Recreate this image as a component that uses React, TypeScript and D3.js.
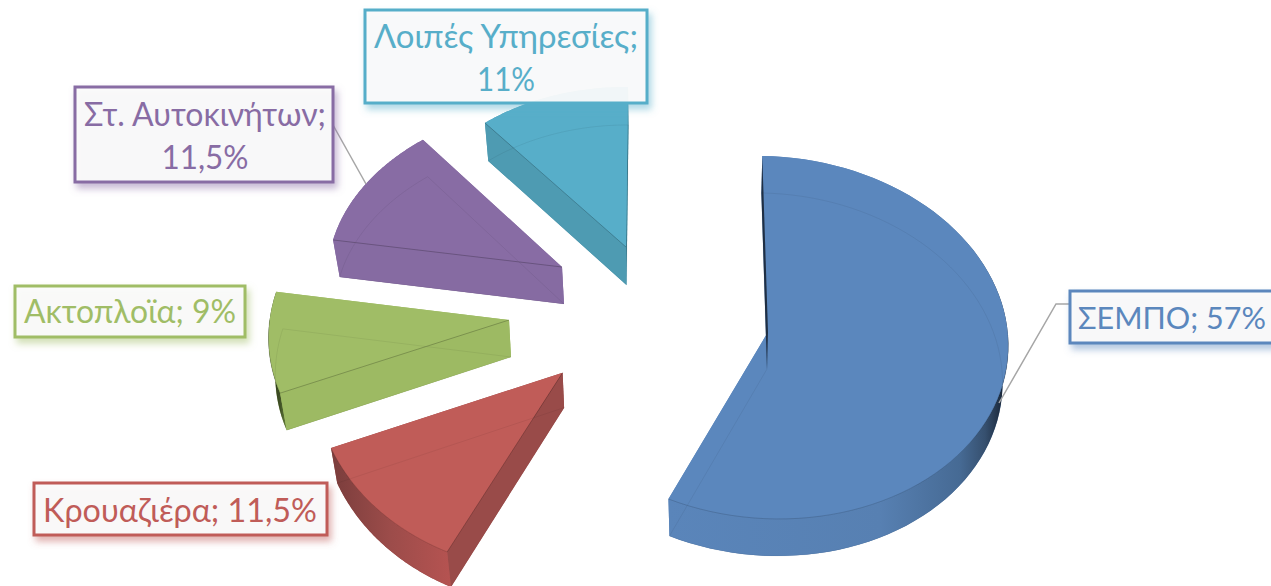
import React from "react";
import * as d3 from "d3";

const categories = ["ΣΕΜΠΟ", "Κρουαζιέρα", "Ακτοπλοϊα", "Στ. Αυτοκινήτων", "Λοιπές Υπηρεσίες"];
const values = [57, 11.5, 9, 11.5, 11];
const colors = ["#5b87bd", "#c05c58", "#a0bd66", "#886ca4", "#57aec9"];

const W = 1271, H = 586;

// projected placement of every exploded slice: apex, projective matrix, depth offset
const placement = [
  { ax: 768, ay: 332, a: 240, b: 5.9, c: 3.7, d: 181.3, g: -0.03, ox: -1, oy: 37 },
  { ax: 562.6, ay: 372.7, a: 247.5, b: -11.1, c: 4.5, d: 200.2, g: 0, ox: 1.5, oy: 35 },
  { ax: 509, ay: 320, a: 239.4, b: -23, c: -0.5, d: 183, g: 0, ox: 2, oy: 37 },
  { ax: 562, ay: 267, a: 233.8, b: -12.9, c: 1.4, d: 164, g: 0, ox: 2, oy: 37 },
  { ax: 626, ay: 247, a: 223.7, b: -2, c: 1.3, d: 160, g: 0, ox: 0.5, oy: 38 },
];
const wallStyle = [
  { start: "#1f2f44", end: "#5a85ba", outer: [[668, "#5a85ba"], [880, "#5780b2"], [960, "#466a94"], [985, "#36506f"], [1001, "#1d2c40"]] },
  { start: "#994b49", end: "#994b49", outer: [[331, "#7a3d3c"], [390, "#9c4c4a"], [450, "#b55351"]] },
  { start: "#9dba63", end: "#9dba63", outer: [[270, "#2d3a1a"], [280, "#3f4f25"], [290, "#7c9a48"]] },
  { start: "#866ba2", end: "#866ba2", outer: [[330, "#866ba2"], [430, "#866ba2"]] },
  { start: "#4e9bb2", end: "#3b7a8d", outer: [[480, "#4e9bb2"], [630, "#4e9bb2"]] },
];
const boxes = [
  { x: 1070, y: 291, w: 215, h: 52, lines: ["ΣΕΜΠΟ; 57%"], base: [329], cx: 1172, fit: [188], size: 30.5 },
  { x: 34, y: 483, w: 293, h: 52, lines: ["Κρουαζιέρα; 11,5%"], base: [522], cx: 180, fit: [274], size: 32 },
  { x: 15, y: 286, w: 230, h: 51, lines: ["Ακτοπλοϊα; 9%"], base: [323], cx: 130, fit: [212], size: 32 },
  { x: 75, y: 87, w: 258, h: 95, lines: ["Στ. Αυτοκινήτων;", "11,5%"], base: [126, 169], cx: 205, fit: [242, 87], size: 32 },
  { x: 365, y: 10, w: 282, h: 93, lines: ["Λοιπές Υπηρεσίες;", "11%"], base: [48, 91], cx: 506, fit: [264, 58], size: 32 },
];
const leaders = [
  [[999, 403], [1056, 304], [1070, 304]],
  null,
  null,
  [[333, 125], [366, 184]],
  null,
];

const pie = d3.pie<number>().sort(null).startAngle(0).endAngle(2 * Math.PI);
const line = d3.line<number[]>().x(p => p[0]).y(p => p[1]);

type P = typeof placement[number];
function project(p: P, theta: number, bottom: boolean): number[] {
  const X = Math.sin(theta), Y = -Math.cos(theta);
  const w = 1 + p.g * Y;
  const px = (p.a * X + p.b * Y) / w, py = (p.c * X + p.d * Y) / w;
  return bottom
    ? [p.ax + p.ox + px * 0.98, p.ay + p.oy + py]
    : [p.ax + px, p.ay + py];
}
function arcPts(p: P, t0: number, t1: number, bottom: boolean): number[][] {
  const s = d3.scaleLinear().domain([0, 80]).range([t0, t1]);
  return d3.range(81).map(i => project(p, s(i), bottom));
}

export default function App() {
  const arcs = pie(values);
  return (
    <svg width={W} height={H} viewBox={`0 0 ${W} ${H}`}
      style={{ position: "fixed", left: 0, top: 0, background: "#fff", display: "block" }}>
      <defs>
        {wallStyle.map((s, i) => (
          <linearGradient key={i} id={`outer${i}`} gradientUnits="userSpaceOnUse"
            x1={s.outer[0][0] as number} x2={s.outer[s.outer.length - 1][0] as number} y1={0} y2={0}>
            {s.outer.map((st, j) => {
              const x0 = s.outer[0][0] as number, x1 = s.outer[s.outer.length - 1][0] as number;
              return <stop key={j} offset={((st[0] as number) - x0) / (x1 - x0)} stopColor={st[1] as string} />;
            })}
          </linearGradient>
        ))}
        {colors.map((c, i) => (
          <filter key={i} id={`shadow${i}`} x="-10%" y="-20%" width="125%" height="150%">
            <feDropShadow dx={3} dy={5} stdDeviation={3.5} floodColor={c} floodOpacity={0.5} />
          </filter>
        ))}
      </defs>

      {arcs.map((arc, i) => {
        const p = placement[i];
        const t0 = arc.startAngle, t1 = arc.endAngle;
        const topArc = arcPts(p, t0, t1, false);
        const botArc = arcPts(p, t0, t1, true);
        const apexT = [p.ax, p.ay], apexB = [p.ax + p.ox, p.ay + p.oy];
        const topFace = [apexT, ...topArc];
        const botFace = [apexB, ...botArc];
        const outerWall = [...topArc, ...botArc.slice().reverse()];
        const startWall = [apexT, topArc[0], botArc[0], apexB];
        const endWall = [apexT, topArc[80], botArc[80], apexB];
        // the edges of the top face that stand in front of a wall
        const frontArc = topArc.filter(q => q[1] > p.ay);
        return (
          <g key={categories[i]}>
            <path d={line(botFace)! + "Z"} fill={colors[i]} />
            <path d={line(endWall)! + "Z"} fill={wallStyle[i].end} />
            <path d={line(outerWall)! + "Z"} fill={`url(#outer${i})`} />
            <path d={line(topFace)! + "Z"} fill={colors[i]} />
            <path d={line(startWall)! + "Z"} fill={wallStyle[i].start} />
            <path d={line(botFace)! + "Z"} fill="none" stroke="#000" strokeOpacity={0.06} strokeWidth={1} />
            <path d={line(frontArc)!} fill="none" stroke="#000" strokeOpacity={0.14} strokeWidth={1} />
            {i > 0 && <path d={line([apexT, topArc[0]])!} fill="none" stroke="#000" strokeOpacity={0.22} strokeWidth={1} />}
          </g>
        );
      })}

      {leaders.map((l, i) => l && (
        <path key={i} d={line(l as number[][])!} fill="none" stroke="#a6a6a6" strokeWidth={1.5} />
      ))}

      {boxes.map((b, i) => (
        <g key={i}>
          <rect x={b.x} y={b.y} width={b.w} height={b.h} fill="#fbfbfb" fillOpacity={0.93}
            stroke={colors[i]} strokeWidth={3} filter={`url(#shadow${i})`} />
          {b.lines.map((t, j) => (
            <text key={j} x={b.cx} y={b.base[j]} textAnchor="middle" fill={colors[i]}
              fontFamily="Lato, 'Noto Sans', sans-serif" fontSize={b.size}
              textLength={b.fit[j]} lengthAdjust="spacingAndGlyphs">{t}</text>
          ))}
        </g>
      ))}
    </svg>
  );
}
